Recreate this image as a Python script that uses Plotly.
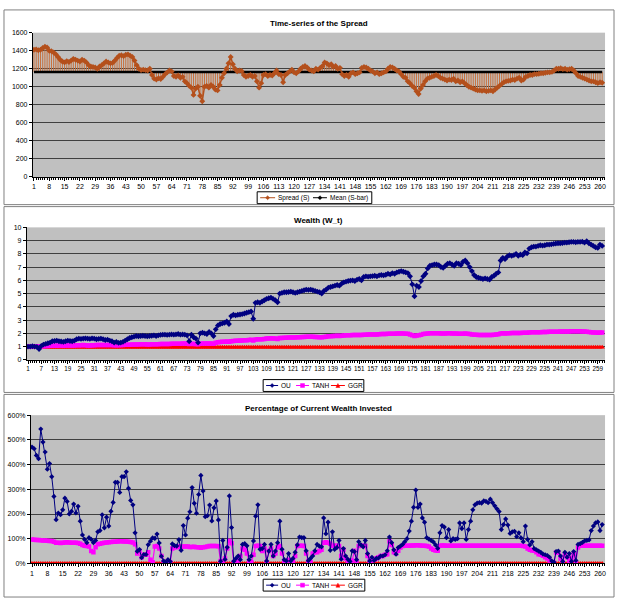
import plotly.graph_objects as go

# ---------------- data ----------------
SPREAD = [
    1410, 1415, 1405, 1410, 1430, 1445, 1435, 1400, 1395, 1380,
    1360, 1330, 1300, 1280, 1270, 1285, 1275, 1290, 1310, 1300,
    1290, 1280, 1300, 1290, 1270, 1240, 1225, 1220, 1215, 1200,
    1225, 1240, 1260, 1280, 1270, 1260, 1265, 1290, 1320, 1345,
    1350, 1340, 1355, 1360, 1345, 1330, 1290, 1240, 1200, 1185,
    1190, 1185, 1180, 1200, 1130, 1090, 1080, 1095, 1085, 1110,
    1140, 1160, 1180, 1170, 1120, 1110, 1125, 1100, 1110, 1060,
    1040, 1010, 990, 910, 980, 1000, 900, 840, 1000, 1010,
    990, 1020, 1000, 970, 960, 1020, 1100, 1150, 1200, 1260,
    1330, 1250, 1200, 1170, 1180, 1175, 1130, 1110, 1120, 1130,
    1110, 1120, 1060, 990, 1040, 1130, 1140, 1120, 1130, 1125,
    1150, 1180, 1140, 1130, 1050, 1130, 1150, 1170, 1190, 1160,
    1150, 1170, 1200, 1220, 1230, 1215, 1190, 1180, 1170, 1200,
    1190, 1210, 1230, 1270, 1260, 1240, 1250, 1220, 1230, 1200,
    1210, 1140, 1120, 1130, 1110, 1150, 1160, 1140, 1150, 1160,
    1210, 1220, 1215, 1200, 1180, 1170, 1150, 1160, 1140, 1150,
    1160, 1170, 1200, 1220, 1215, 1200, 1180, 1170, 1140, 1110,
    1100, 1060, 1040, 1010, 990, 950, 920, 980, 1020, 1060,
    1090, 1100, 1110, 1120, 1130, 1120, 1100, 1090, 1080, 1070,
    1080, 1075, 1090, 1060, 1070, 1050, 1060, 1040, 1020, 1000,
    990, 980, 970, 960, 960, 955, 960, 950, 955, 960,
    950, 970, 990, 1010, 1030, 1050, 1060, 1065, 1070, 1080,
    1075, 1090, 1100, 1070, 1080, 1110, 1120, 1130, 1130, 1140,
    1140, 1145, 1150, 1150, 1155, 1160, 1160, 1165, 1180, 1200,
    1200, 1205, 1195, 1200, 1190, 1195, 1200, 1180, 1150, 1120,
    1110, 1100, 1090, 1080, 1070, 1060, 1060, 1050, 1040, 1050, 1045,
]
MEAN_S = 1165

OU_W = [
    1.0, 1.0, 1.02, 1.0, 0.98, 0.82, 1.05, 1.15, 1.2, 1.25,
    1.3, 1.4, 1.42, 1.45, 1.4, 1.38, 1.35, 1.4, 1.45, 1.42,
    1.4, 1.45, 1.55, 1.6, 1.58, 1.6, 1.62, 1.6, 1.58, 1.62,
    1.6, 1.55, 1.58, 1.6, 1.55, 1.5, 1.52, 1.45, 1.4, 1.3,
    1.35, 1.28, 1.3, 1.35, 1.45, 1.55, 1.65, 1.7, 1.75, 1.8,
    1.78, 1.8, 1.82, 1.8, 1.78, 1.8, 1.82, 1.85, 1.8, 1.85,
    1.88, 1.9, 1.9, 1.88, 1.9, 1.92, 1.9, 1.92, 1.95, 1.9,
    1.92, 1.9, 1.85, 1.4, 1.9, 1.7, 1.6, 1.3, 2.0, 2.05,
    2.0, 1.95, 2.1, 2.0, 1.8, 2.3, 2.6, 2.7, 2.75, 2.8,
    2.9, 2.7, 3.3, 3.4, 3.35, 3.4, 3.42, 3.45, 3.5, 3.55,
    3.6, 3.65, 3.1, 4.3, 4.35, 4.3, 4.4, 4.5, 4.6, 4.65,
    4.7, 4.6, 4.5, 4.35, 5.0, 5.05, 5.1, 5.1, 5.12, 5.15,
    5.1, 5.05, 5.1, 5.15, 5.2, 5.25, 5.3, 5.28, 5.3, 5.25,
    5.2, 5.15, 5.1, 5.0, 5.2, 5.3, 5.45, 5.5, 5.55, 5.6,
    5.65, 5.6, 5.75, 5.85, 5.9, 5.95, 5.98, 6.0, 5.95, 6.05,
    6.1, 6.0, 6.25, 6.3, 6.28, 6.3, 6.32, 6.35, 6.3, 6.38,
    6.4, 6.38, 6.42, 6.5, 6.45, 6.55, 6.5, 6.6, 6.65, 6.7,
    6.65, 6.6, 6.55, 6.3, 5.7, 4.8, 5.6, 5.5, 5.95, 6.3,
    6.5, 6.9, 7.1, 7.15, 7.2, 7.2, 7.15, 7.0, 6.95, 7.1,
    7.25, 7.3, 7.2, 7.1, 7.3, 7.25, 7.15, 7.4, 7.5, 7.3,
    7.0, 6.7, 6.4, 6.25, 6.2, 6.15, 6.1, 6.15, 6.1, 6.05,
    6.25, 6.35, 6.5, 6.6, 7.5, 7.7, 7.6, 7.8, 7.9, 7.85,
    7.9, 8.0, 7.85, 7.95, 7.9, 8.1, 8.05, 8.4, 8.5, 8.55,
    8.55, 8.6, 8.65, 8.62, 8.65, 8.7, 8.7, 8.72, 8.75, 8.78,
    8.8, 8.8, 8.82, 8.85, 8.85, 8.88, 8.9, 8.9, 8.88, 8.9,
    8.9, 8.92, 8.85, 8.95, 8.8, 8.7, 8.6, 8.5, 8.45, 8.7, 8.6,
]

TANH_W = [
    1.0, 1.0, 1.02, 1.03, 1.02, 0.98, 1.0, 1.02, 1.04, 1.05,
    1.06, 1.06, 1.07, 1.07, 1.08, 1.08, 1.07, 1.08, 1.09, 1.08,
    1.09, 1.09, 1.1, 1.1, 1.1, 1.11, 1.1, 1.09, 1.08, 1.1,
    1.1, 1.11, 1.11, 1.12, 1.12, 1.11, 1.12, 1.12, 1.11, 1.1,
    1.1, 1.1, 1.11, 1.12, 1.13, 1.14, 1.14, 1.15, 1.15, 1.16,
    1.16, 1.17, 1.17, 1.17, 1.16, 1.16, 1.17, 1.18, 1.18, 1.18,
    1.19, 1.19, 1.2, 1.2, 1.2, 1.21, 1.21, 1.22, 1.22, 1.22,
    1.23, 1.23, 1.22, 1.2, 1.22, 1.2, 1.19, 1.18, 1.22, 1.23,
    1.23, 1.24, 1.24, 1.23, 1.22, 1.28, 1.32, 1.34, 1.36, 1.37,
    1.38, 1.36, 1.4, 1.42, 1.43, 1.44, 1.45, 1.46, 1.47, 1.48,
    1.5, 1.52, 1.46, 1.53, 1.55, 1.55, 1.56, 1.58, 1.6, 1.6,
    1.62, 1.61, 1.6, 1.58, 1.64, 1.65, 1.66, 1.67, 1.68, 1.68,
    1.68, 1.69, 1.7, 1.71, 1.72, 1.73, 1.74, 1.74, 1.75, 1.74,
    1.73, 1.72, 1.7, 1.7, 1.72, 1.75, 1.77, 1.78, 1.8, 1.8,
    1.81, 1.8, 1.82, 1.84, 1.85, 1.86, 1.86, 1.87, 1.87, 1.88,
    1.88, 1.88, 1.9, 1.9, 1.91, 1.91, 1.92, 1.92, 1.92, 1.93,
    1.94, 1.94, 1.95, 1.96, 1.96, 1.97, 1.97, 1.98, 1.98, 1.99,
    1.98, 1.97, 1.96, 1.92, 1.86, 1.8, 1.84, 1.85, 1.9, 1.95,
    1.97, 1.99, 2.0, 2.0, 2.0, 2.01, 2.0, 1.99, 1.98, 1.99,
    2.0, 2.0, 1.99, 1.98, 1.98, 1.97, 1.96, 1.97, 1.98, 1.96,
    1.94, 1.92, 1.9, 1.89, 1.88, 1.88, 1.87, 1.88, 1.87, 1.87,
    1.88, 1.9, 1.92, 1.93, 1.98, 2.0, 1.99, 2.0, 2.01, 2.02,
    2.02, 2.03, 2.02, 2.03, 2.04, 2.05, 2.05, 2.07, 2.08, 2.08,
    2.08, 2.09, 2.09, 2.1, 2.1, 2.1, 2.11, 2.11, 2.12, 2.12,
    2.12, 2.13, 2.13, 2.14, 2.14, 2.14, 2.15, 2.15, 2.15, 2.15,
    2.15, 2.14, 2.13, 2.12, 2.1, 2.08, 2.07, 2.06, 2.05, 2.07, 2.06,
]

GGR_W_LEVEL = 0.95

OU_P = [
    471, 464, 437, 424, 544, 491, 451, 381, 404, 351,
    271, 177, 204, 197, 217, 264, 251, 200, 211, 240,
    204, 231, 171, 115, 97, 84, 104, 97, 84, 93,
    128, 133, 197, 144, 187, 151, 211, 247, 328, 328,
    287, 351, 351, 371, 304, 255, 237, 124, 49, 56,
    23, 36, 36, 76, 90, 103, 101, 119, 83, 29,
    10, 5, 15, 8, 79, 72, 70, 96, 53, 153,
    115, 183, 209, 307, 243, 203, 279, 356, 293, 189,
    193, 236, 172, 225, 253, 176, 9, 93, 16, 65,
    273, 145, 9, 20, 30, 15, 77, 80, 71, 15,
    30, 91, 191, 237, 57, 60, 77, 10, 50, 77,
    30, 50, 84, 171, 57, 15, 10, 40, 10, 20,
    45, 75, 107, 104, 104, 51, 11, 20, 30, 51,
    77, 70, 67, 184, 120, 167, 53, 128, 57, 64,
    93, 17, 60, 30, 17, 8, 51, 48, 15, 88,
    75, 67, 93, 40, 10, 25, 12, 20, 22, 30,
    30, 35, 51, 107, 84, 55, 37, 64, 70, 77,
    88, 100, 131, 171, 227, 297, 227, 240, 184, 167,
    104, 98, 93, 87, 75, 61, 124, 153, 147, 104,
    137, 91, 100, 97, 100, 164, 141, 164, 97, 137,
    171, 217, 237, 244, 246, 244, 253, 251, 246, 260,
    246, 233, 221, 210, 137, 157, 180, 155, 121, 128,
    130, 108, 124, 103, 88, 151, 97, 75, 88, 60,
    55, 50, 45, 38, 35, 32, 25, 10, 5, 48,
    50, 30, 8, 45, 25, 40, 8, 48, 12, 77,
    80, 85, 91, 93, 95, 133, 151, 164, 168, 133, 157,
]

TANH_P = [
    97, 96, 95, 95, 94, 93, 93, 92, 91, 91,
    88, 84, 84, 83, 84, 85, 86, 85, 84, 84,
    84, 83, 80, 75, 72, 70, 68, 50, 45, 65,
    78, 80, 82, 84, 85, 86, 87, 88, 88, 89,
    90, 90, 89, 89, 88, 87, 85, 78, 40, 50,
    25, 35, 35, 45, 15, 5, 68, 70, 60, 30,
    5, 3, 10, 5, 60, 65, 65, 68, 66, 68,
    68, 68, 66, 66, 67, 65, 65, 63, 65, 66,
    68, 70, 70, 70, 70, 69, 10, 0, 20, 60,
    92, 82, 5, 8, 12, 30, 60, 55, 40, 8,
    5, 35, 70, 72, 70, 50, 60, 5, 50, 60,
    30, 40, 65, 70, 40, 10, 5, 15, 5, 10,
    30, 70, 72, 72, 70, 40, 10, 5, 40, 45,
    45, 50, 55, 84, 86, 84, 80, 71, 72, 71,
    70, 31, 55, 20, 11, 11, 11, 51, 10, 70,
    71, 71, 70, 30, 10, 12, 15, 20, 25, 30,
    30, 35, 37, 90, 75, 45, 40, 51, 64, 70,
    71, 72, 72, 73, 73, 74, 74, 73, 72, 72,
    70, 68, 60, 55, 52, 51, 72, 73, 73, 72,
    72, 71, 72, 72, 71, 72, 72, 71, 72, 71,
    71, 72, 72, 71, 71, 72, 72, 71, 72, 71,
    72, 72, 71, 72, 71, 72, 72, 71, 72, 72,
    71, 72, 72, 71, 70, 68, 60, 55, 52, 51,
    45, 37, 35, 31, 25, 20, 12, 5, 3, 44,
    44, 20, 5, 37, 25, 10, 22, 37, 5, 64,
    71, 71, 72, 72, 71, 72, 72, 72, 72, 72, 72,
]

GGR_P_LEVEL = 0

N = len(SPREAD)
X = list(range(1, N + 1))
MEAN_LINE = [MEAN_S] * N
GGR_W = [GGR_W_LEVEL] * N
GGR_P = [GGR_P_LEVEL] * N

# ---------------- style ----------------
W, H = 618, 602
FONT = "Liberation Sans, Arial, sans-serif"
C_SPREAD = "#b4501c"
C_DROP = "#c8703c"
C_MEAN = "#000000"
C_OU = "#000080"
C_TANH = "#ff00ff"
C_GGR = "#ff0000"


def fx(v):
    return v / W


def fy(v):
    return 1 - v / H


fig = go.Figure()

# drop lines from the spread to its mean
dx, dy = [], []
for i, s in zip(X, SPREAD):
    dx += [i, i, None]
    dy += [MEAN_S, s, None]
fig.add_trace(go.Scatter(x=dx, y=dy, mode="lines", line=dict(color=C_DROP, width=1),
                         hoverinfo="skip", xaxis="x", yaxis="y"))
fig.add_trace(go.Scatter(x=X, y=MEAN_LINE, name="Mean (S-bar)", mode="lines",
                         line=dict(color=C_MEAN, width=2.5), xaxis="x", yaxis="y"))
fig.add_trace(go.Scatter(x=X, y=SPREAD, name="Spread (S)", mode="lines+markers",
                         line=dict(color=C_SPREAD, width=1.5),
                         marker=dict(symbol="diamond", size=4.5, color=C_SPREAD),
                         xaxis="x", yaxis="y"))

# wealth
fig.add_trace(go.Scatter(x=X, y=GGR_W, name="GGR", mode="lines+markers",
                         line=dict(color=C_GGR, width=2),
                         marker=dict(symbol="triangle-up", size=5, color=C_GGR),
                         xaxis="x2", yaxis="y2"))
fig.add_trace(go.Scatter(x=X, y=TANH_W, name="TANH", mode="lines+markers",
                         line=dict(color=C_TANH, width=1.5),
                         marker=dict(symbol="square", size=4.5, color=C_TANH),
                         xaxis="x2", yaxis="y2"))
fig.add_trace(go.Scatter(x=X, y=OU_W, name="OU", mode="lines+markers",
                         line=dict(color=C_OU, width=1),
                         marker=dict(symbol="diamond", size=4.5, color=C_OU),
                         xaxis="x2", yaxis="y2"))

# percentage invested
fig.add_trace(go.Scatter(x=X, y=GGR_P, name="GGR", mode="lines+markers",
                         line=dict(color=C_GGR, width=2),
                         marker=dict(symbol="triangle-up", size=5, color=C_GGR),
                         xaxis="x3", yaxis="y3"))
fig.add_trace(go.Scatter(x=X, y=TANH_P, name="TANH", mode="lines+markers",
                         line=dict(color=C_TANH, width=1.2),
                         marker=dict(symbol="square", size=4.5, color=C_TANH),
                         xaxis="x3", yaxis="y3"))
fig.add_trace(go.Scatter(x=X, y=OU_P, name="OU", mode="lines+markers",
                         line=dict(color=C_OU, width=1),
                         marker=dict(symbol="diamond", size=4, color=C_OU),
                         xaxis="x3", yaxis="y3"))


def tickfont(size=7):
    return dict(family=FONT, size=size, color="#000000")


def xax(left, tick_step, anchor, fsize=7):
    return dict(domain=[fx(left), fx(606)], range=[0.5, 262.3], anchor=anchor,
                tickmode="array", tickvals=list(range(1, N + 1, tick_step)), tickangle=0,
                showgrid=False, zeroline=False, showline=True, linecolor="#000000", linewidth=1,
                ticks="outside", ticklen=3, tickcolor="#000000", tickfont=tickfont(fsize),
                minor=dict(ticks="outside", tickmode="linear", tick0=1, dtick=1, ticklen=2,
                           tickcolor="#000000", showgrid=False))


def yax(top, bottom, rng, dtick, anchor, suffix=""):
    return dict(domain=[fy(bottom), fy(top)], range=rng, dtick=dtick, anchor=anchor,
                showgrid=True, gridcolor="#404040", gridwidth=1, zeroline=False,
                showline=True, linecolor="#000000", linewidth=1,
                ticks="outside", ticklen=3, tickcolor="#000000", tickfont=tickfont(7),
                ticksuffix=suffix)


fig.update_layout(
    width=W, height=H, margin=dict(l=0, r=0, t=0, b=0),
    paper_bgcolor="#ffffff", plot_bgcolor="#c0c0c0",
    showlegend=False,
    xaxis=xax(32, 7, "y"),
    yaxis=yax(29, 175, [0, 1600], 200, "x"),
    xaxis2=xax(26, 6, "y2", 6.3),
    yaxis2=yax(226, 360, [0, 10], 1, "x2"),
    xaxis3=xax(30, 7, "y3"),
    yaxis3=yax(416, 566, [0, 600], 100, "x3", "%"),
)

# titles
titles = [("Time-series of the Spread", 20), ("Wealth (W_t)", 219),
          ("Percentage of Current Wealth Invested", 409)]
for text, ypix in titles:
    fig.add_annotation(text="<b>" + text + "</b>", x=fx(319), y=fy(ypix),
                       xref="paper", yref="paper", showarrow=False,
                       xanchor="center", yanchor="middle",
                       font=dict(family=FONT, size=8, color="#000000"))

# panel frames
for top, bottom in [(6, 203), (205, 393), (395, 600)]:
    fig.add_shape(type="rect", xref="paper", yref="paper",
                  x0=fx(3), x1=fx(615), y0=fy(bottom), y1=fy(top),
                  line=dict(color="#808080", width=1), fillcolor="rgba(0,0,0,0)", layer="below")


# compact Excel-style legends (symbol + text inside a box)
def marker_path(kind, cx, cy, r):
    if kind == "diamond":
        pts = [(cx, cy - r), (cx + r, cy), (cx, cy + r), (cx - r, cy)]
    elif kind == "square":
        pts = [(cx - r, cy - r), (cx + r, cy - r), (cx + r, cy + r), (cx - r, cy + r)]
    else:
        pts = [(cx, cy - r), (cx + r, cy + r), (cx - r, cy + r)]
    return "M " + " L ".join(f"{fx(a):.5f},{fy(b):.5f}" for a, b in pts) + " Z"


def add_legend(box, cy, items):
    x0, x1 = box
    fig.add_shape(type="rect", xref="paper", yref="paper",
                  x0=fx(x0), x1=fx(x1), y0=fy(cy + 6), y1=fy(cy - 6),
                  line=dict(color="#000000", width=1), fillcolor="#ffffff")
    for sx0, sx1, tx, label, color, kind in items:
        fig.add_shape(type="line", xref="paper", yref="paper",
                      x0=fx(sx0), x1=fx(sx1), y0=fy(cy), y1=fy(cy),
                      line=dict(color=color, width=1))
        if kind:
            fig.add_shape(type="path", xref="paper", yref="paper",
                          path=marker_path(kind, (sx0 + sx1) / 2, cy, 2),
                          line=dict(color=color, width=0.5), fillcolor=color)
        fig.add_annotation(text=label, x=fx(tx), y=fy(cy), xref="paper", yref="paper",
                           showarrow=False, xanchor="left", yanchor="middle",
                           font=dict(family=FONT, size=6.5, color="#000000"))


add_legend((257, 372), 196, [
    (260, 275, 276, "Spread (S)", C_SPREAD, "diamond"),
    (313, 327, 328, "Mean (S-bar)", C_MEAN, "diamond"),
])
add_legend((263, 364), 386, [
    (266, 278, 279, "OU", C_OU, "diamond"),
    (296, 309, 310, "TANH", C_TANH, "square"),
    (331, 345, 346, "GGR", C_GGR, "triangle"),
])
add_legend((263, 365), 588, [
    (266, 278, 279, "OU", C_OU, "diamond"),
    (296, 309, 310, "TANH", C_TANH, "square"),
    (331, 345, 346, "GGR", C_GGR, "triangle"),
])

fig.write_html("out.html")
